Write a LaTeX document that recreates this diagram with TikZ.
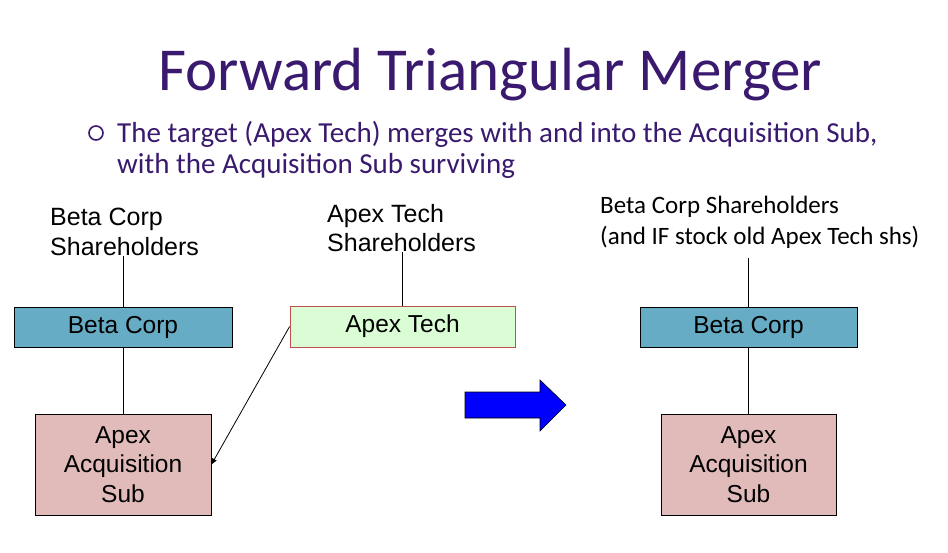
\documentclass[tikz,border=0pt]{standalone}
\usepackage{fontspec}
\setmainfont{Liberation Sans}
\newfontfamily\calfont{Carlito}
\usetikzlibrary{arrows.meta}
\definecolor{titlepurple}{HTML}{3A1A6E}
\definecolor{corpblue}{HTML}{67ACC5}
\definecolor{techgreen}{HTML}{DBFDD5}
\definecolor{techred}{HTML}{C0504D}
\definecolor{subpink}{HTML}{E0BBBA}
\begin{document}
\begin{tikzpicture}[x=1pt,y=-1pt,
    company/.style={draw,line width=0.8pt,inner sep=0pt,align=center,
      font=\fontsize{24.5}{29.5}\selectfont},
    holders/.style={inner sep=0pt,align=left,font=\fontsize{25}{29.5}\selectfont},
    link/.style={line width=0.8pt}]
    \useasboundingbox[fill=white] (0,0) rectangle (948,552);
    % title and bullet
    \node[anchor=base,text=titlepurple,font=\calfont\fontsize{61}{66}\selectfont] (title) at (490,90) {Forward Triangular Merger};
    \draw[titlepurple,line width=1.6pt] (96,133) circle (7);
    \node[anchor=west,align=left,inner sep=0pt,text=titlepurple,font=\calfont\fontsize{29}{31}\selectfont] (point) at (117,150)
      {The target (Apex Tech) merges with and into the Acquisition Sub,\\with the Acquisition Sub surviving};
    % before the merger
    \node[holders,anchor=west] (bsh) at (50,232) {Beta Corp\\Shareholders};
    \node[company,fill=corpblue,minimum width=218,minimum height=40] (bc) at (123,327) {Beta Corp};
    \node[company,fill=subpink,minimum width=176,minimum height=101] (sub) at (123,464.5) {Apex\\Acquisition\\Sub};
    \node[holders,anchor=west] (ash) at (327,228) {Apex Tech\\Shareholders};
    \node[company,draw=techred,fill=techgreen,minimum width=225,minimum height=41] (at) at (402.5,326.5) {Apex Tech};
    \draw[link] (bc.north) -- (bc.north |- bsh.south);
    \draw[link] (bc) -- (sub);
    \draw[link] (at.north) -- (at.north |- ash.south);
    \draw[link,-{Triangle[length=6pt,width=5pt]}] (at.west) -- (sub.east);
    % blue arrow
    \draw[fill=blue,line width=0.6pt] (465,392) -- (540,392) -- (540,380) -- (566,405)
      -- (540,431) -- (540,418) -- (465,418) -- cycle;
    % after the merger
    \node[holders,anchor=west,font=\calfont\fontsize{25}{31}\selectfont] (nsh) at (600,222)
      {Beta Corp Shareholders\\(and IF stock old Apex Tech shs)};
    \node[company,fill=corpblue,minimum width=217,minimum height=40] (nbc) at (748.5,327) {Beta Corp};
    \node[company,fill=subpink,minimum width=175,minimum height=101] (nsub) at (748.5,464.5) {Apex\\Acquisition\\Sub};
    \draw[link] (nbc.north) -- ++(0,-49);
    \draw[link] (nbc) -- (nsub);
\end{tikzpicture}
\end{document}
